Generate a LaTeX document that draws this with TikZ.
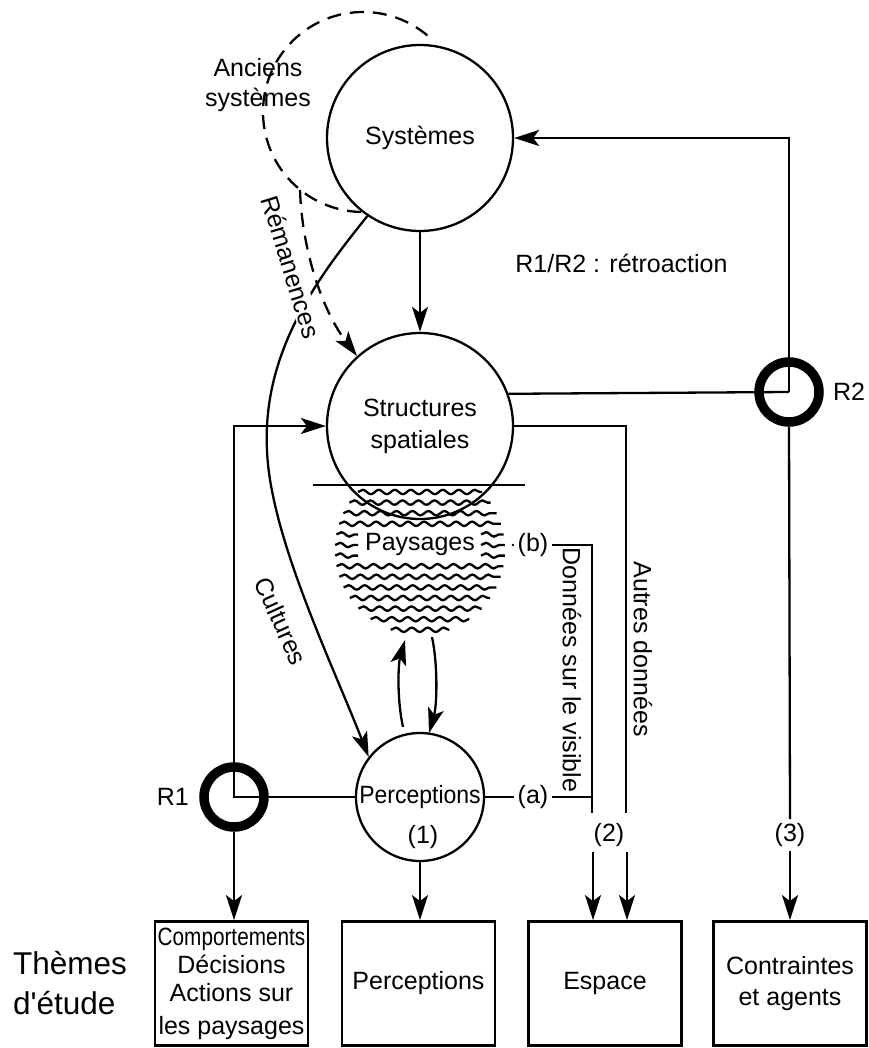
\documentclass[tikz,border=0pt]{standalone}
\usepackage{fontspec}
\setmainfont{Liberation Sans}
\usetikzlibrary{arrows.meta,decorations.pathmorphing}
\begin{document}
\begin{tikzpicture}[x=1pt,y=1pt,
  font=\fontsize{25}{30}\selectfont,
  line width=2.3pt,
  every node/.style={inner sep=0pt},
  arr/.style={-{Stealth[length=25pt,width=16pt,inset=6pt]}},
  circ/.style={circle,draw,minimum size=186pt,line width=2.3pt},
  ring/.style={circle,draw,line width=9.5pt,minimum size=60pt},
  box/.style={draw,line width=2.8pt,minimum width=153pt,minimum height=124pt,align=center},
  tag/.style={inner sep=3pt},
  wave/.style={decorate,decoration={snake,segment length=16pt,amplitude=2.2pt}},
  dsh/.style={dash pattern=on 14pt off 9pt}
]
\useasboundingbox (0,0) rectangle (868,-1048);

% main circles
\node[circ] (sys) at (420,-138) {Systèmes};
\node[circ,align=center,font=\fontsize{25}{32}\selectfont] (str) at (420,-426) {Structures\\spatiales};
\node[circle,draw,minimum size=128pt] (perc) at (420,-797) {};
\node (perctxt) at (420,-797) {\scalebox{0.92}[1]{Perceptions}};
\node (n1) at (423,-837) {(1)};

% rings
\node[ring] (r1) at (234,-797) {};
\node[ring] (r2) at (789,-392) {};
\node[anchor=east] (r1l) at (190,-797) {R1};
\node[anchor=west] (r2l) at (832,-392) {R2};

% boxes
\node[box,font=\fontsize{25}{28}\selectfont] (box1) at (231.5,-983.5) {\scalebox{0.83}[1]{Comportements}\\Décisions\\Actions sur\\[5pt]les paysages};
\node[box] (box2) at (418.5,-983.5) {Perceptions};
\node[box] (box3) at (605,-983.5) {Espace};
\node[box,font=\fontsize{25}{31}\selectfont] (box4) at (790,-983.5) {Contraintes\\et agents};
\node[anchor=west,align=left,font=\fontsize{31.5}{40}\selectfont] (theme) at (12,-983) {Thèmes\\d\textquotesingle étude};

% texts
\node (rtxt) at (621.5,-263) {R1/R2 : rétroaction};
\node[align=center] (anc) at (258,-85) {Anciens\\systèmes};
\node (pays) at (420,-544) {Paysages};
\node[tag] (a) at (533,-797) {(a)};
\node[tag] (b) at (533,-545) {(b)};
\node[tag] (n2) at (609,-835) {(2)};
\node[tag] (n3) at (790,-835) {(3)};
\node[rotate=-90] (dsv) at (572,-670) {Données sur le visible};
\node[rotate=-90] (autres) at (643,-649) {Autres données};
\node[rotate=-65.5] (cult) at (281,-621) {Cultures};

% paysages waves
\foreach \k in {0,...,13}{
  \pgfmathsetmacro{\yy}{-(492+10.6*\k)}
  \pgfmathsetmacro{\hw}{sqrt(7225-(\yy+550)^2)}
  \ifnum\k<4\relax
    \draw[wave] ({420-\hw},\yy) -- ({420+\hw},\yy);
  \else\ifnum\k>6\relax
    \draw[wave] ({420-\hw},\yy) -- ({420+\hw},\yy);
  \else
    \draw[wave] ({420-\hw},\yy) -- (358,\yy);
    \draw[wave] (481,\yy) -- ({420+\hw},\yy);
  \fi\fi
}
\draw (313,-485) -- (525,-485);
\fill (513,-545) circle (1.3pt);

% connectors
\draw[arr] (sys.south) -- (str.north);
\draw (str.20) -- (r2.center);
\draw[arr] (r2.center) |- (sys.east);
\draw (r2.south) -- (n3.north);
\draw[arr] (n3.south) -- (n3.south |- box4.north);

\draw[arr] (perc.west) -- (r1.center) |- (str.west);
\draw[arr] (r1.south) -- (r1.south |- box1.north);
\draw[arr] (perc.south) -- (perc.south |- box2.north);

\coordinate (dv) at (592,-813);
\coordinate (ad) at (626,-813);
\draw (perc.east) -- (a.west);
\draw (a.east) -- (dv |- a.east);
\draw (b.east) -| (dv);
\draw (str.east) -| (ad);
\coordinate (d2a) at (593,-852);
\coordinate (d2b) at (627,-852);
\draw[arr] (d2a) -- (d2a |- box3.north);
\draw[arr] (d2b) -- (d2b |- box3.north);

\coordinate (pu0) at (403,-727);
\coordinate (pu1) at (405,-640);
\draw[arr] (pu0) .. controls (397,-700) and (398,-665) .. (pu1);
\coordinate (pd0) at (432,-637);
\coordinate (pd1) at (429,-733);
\draw[arr] (pd0) .. controls (438,-665) and (437,-705) .. (pd1);

% cultures curve
\draw[arr] (sys.236) .. controls (320,-275) and (262,-350) .. (267,-450)
  .. controls (270,-535) and (331,-661) .. (perc.142);
\node[rotate=-73,fill=white,inner sep=1.5pt] (rem) at (291,-267) {Rémanences};

% anciens systemes (dashed)
\draw[dsh] (363,-112) ++(50:100) arc[start angle=50,end angle=270,radius=100];
\coordinate (ancb) at (300,-190);
\draw[dsh,arr] (ancb) .. controls (302,-250) and (322,-310) .. (str.132);
\end{tikzpicture}
\end{document}
